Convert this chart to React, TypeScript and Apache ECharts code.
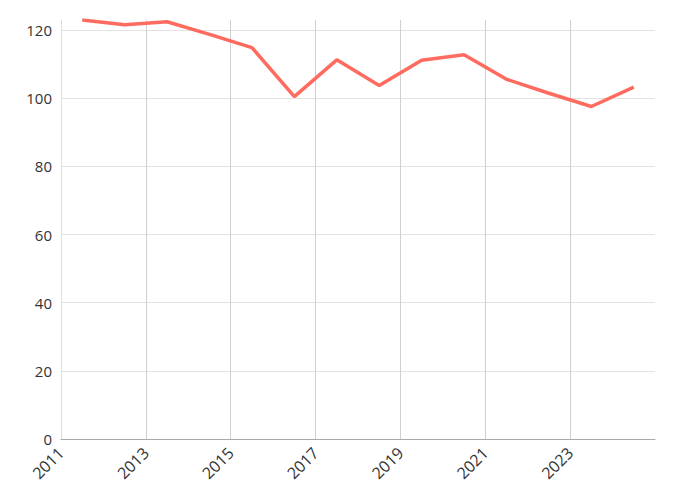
import React, { useEffect, useRef } from "react";
import * as echarts from "echarts";

const years = [2011, 2012, 2013, 2014, 2015, 2016, 2017, 2018, 2019, 2020, 2021, 2022, 2023, 2024];
const values = [123.0, 121.6, 122.5, 118.8, 114.9, 100.5, 111.3, 103.8, 111.2, 112.8, 105.6, 101.5, 97.6, 103.3];
const xTickYears = [2011, 2013, 2015, 2017, 2019, 2021, 2023];

export default function App() {
  const ref = useRef<HTMLDivElement>(null);
  useEffect(() => {
    if (!ref.current) return;
    const chart = echarts.init(ref.current, null, { renderer: "svg" });
    const font = "'Open Sans', sans-serif";
    chart.setOption({
      animation: false,
      grid: { left: 61, right: 21, top: 20, bottom: 61, containLabel: false },
      xAxis: {
        type: "value",
        min: 2011,
        max: 2025,
        interval: 2,
        axisLine: { show: true, lineStyle: { color: "#aaaaaa", width: 1 } },
        axisTick: { show: false },
        splitLine: { show: true, showMaxLine: false, lineStyle: { color: "#d0d0d0", width: 1 } },
        axisLabel: {
          rotate: 45,
          color: "#333333",
          fontFamily: font,
          fontSize: 16,
          margin: 11,
          showMaxLabel: false,
          formatter: (v: number) => (xTickYears.includes(v) ? String(v) : ""),
        },
      },
      yAxis: {
        type: "value",
        min: 0,
        max: "dataMax",
        interval: 20,
        axisLine: { show: true, lineStyle: { color: "#dddddd" } },
        axisTick: { show: false },
        splitLine: { show: true, showMaxLine: false, lineStyle: { color: "#e2e2e2" } },
        axisLabel: { color: "#333333", fontFamily: font, fontSize: 15, margin: 9, showMaxLabel: false },
      },
      series: [
        {
          type: "line",
          data: years.map((y, i) => [y + 0.5, values[i]]),
          showSymbol: false,
          symbol: "none",
          lineStyle: { color: "#ff6b5f", width: 3.5 },
          itemStyle: { color: "#ff6b5f" },
        },
      ],
    });
    return () => chart.dispose();
  }, []);
  return (
    <div
      ref={ref}
      style={{ position: "fixed", left: 0, top: 0, width: 676, height: 500, background: "#ffffff" }}
    />
  );
}
